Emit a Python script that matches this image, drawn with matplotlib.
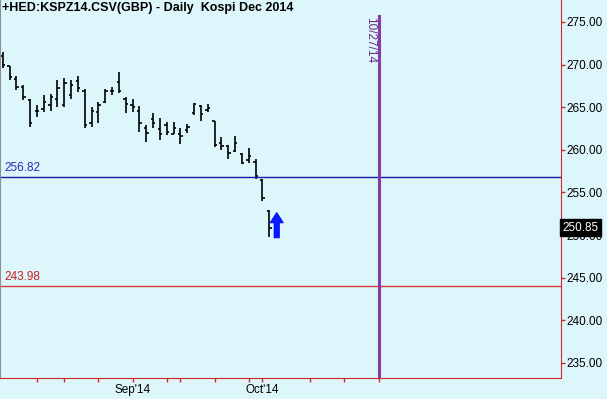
import matplotlib.pyplot as plt

plt.rcParams['font.family'] = ['Liberation Sans', 'DejaVu Sans']

# daily OHLC, Kospi Dec 2014 (GBP)
opens = [271.0, 269.8, 268.3, 267.4, 265.8, 264.6, 264.8, 265.2, 266.0, 265.3,
         266.4, 268.1, 266.9, 263.1, 264.4, 265.6, 266.9, 267.9, 266.0, 265.3,
         264.6, 262.5, 263.6, 262.4, 262.9, 261.9, 261.9, 262.3, 264.3, 265.1,
         264.7, 263.4, 260.8, 260.4, 259.9, 259.5, 258.8, 258.6, 256.5, 252.8]
highs = [271.5, 269.8, 268.7, 267.6, 266.0, 265.3, 266.4, 266.6, 268.2, 268.4,
         268.2, 268.7, 267.1, 265.0, 265.6, 267.1, 267.4, 269.1, 266.2, 266.0,
         265.1, 262.9, 264.3, 263.7, 263.3, 263.3, 262.6, 263.0, 265.5, 265.3,
         265.4, 263.4, 261.5, 260.6, 261.6, 259.6, 260.2, 258.9, 256.6, 252.9]
lows = [269.6, 268.2, 267.0, 265.9, 262.7, 263.9, 264.4, 264.6, 265.0, 265.0,
        266.0, 266.8, 262.6, 262.7, 263.2, 265.5, 266.4, 266.7, 264.3, 264.4,
        262.1, 260.9, 262.6, 261.2, 261.7, 261.9, 260.7, 262.0, 264.1, 263.4,
        264.4, 260.3, 260.0, 258.9, 259.7, 258.3, 258.5, 256.6, 254.0, 249.8]
closes = [270.0, 268.5, 267.4, 266.2, 263.2, 264.5, 265.6, 266.2, 267.2, 267.8,
          267.6, 267.3, 262.9, 264.6, 265.3, 266.9, 266.9, 266.9, 265.4, 265.0,
          263.1, 262.0, 263.2, 261.9, 262.1, 262.6, 261.6, 262.7, 265.4, 264.2,
          264.9, 260.6, 260.4, 259.6, 260.8, 258.5, 259.3, 256.9, 254.4, 250.85]

upper_level = 256.82
lower_level = 243.98
last_price = 250.85
marker_label = '10/27/14'
marker_idx = 55
week_ticks = [5, 9, 14, 19, 24, 26, 31, 36, 38, 45, 50, 55]
month_ticks = [19, 38]
month_labels = ["Sep'14", "Oct'14"]
y_ticks = [235, 240, 245, 250, 255, 260, 265, 270, 275]

bg = '#dcf6fb'
axis_red = '#d02828'

fig = plt.figure(figsize=(6.07, 3.99), dpi=100, facecolor=bg)
ax = fig.add_axes([0.0, 21 / 399, 561 / 607, 378 / 399], facecolor=bg)

x = list(range(len(closes)))
tick = 0.35
ax.vlines(x, lows, highs, color='black', lw=1.2)
ax.hlines(opens, [i - tick for i in x], x, color='black', lw=1.2)
ax.hlines(closes, x, [i + tick for i in x], color='black', lw=1.2)

ax.set_xlim(-0.4, 81.7)
ax.set_ylim(233.22, 277.58)

# support / resistance lines
ax.axhline(upper_level, color='#1a1aa0', lw=1)
ax.axhline(lower_level, color='#d83a3a', lw=1)
ax.text(0.3, upper_level + 0.35, f'{upper_level:.2f}', color='#2a2ab0', fontsize=8.5, va='bottom')
ax.text(0.3, lower_level + 0.35, f'{lower_level:.2f}', color='#d02020', fontsize=8.5, va='bottom')

# date marker
ax.plot([marker_idx, marker_idx], [233.22, 275.7], color='#8a3aa8', lw=2.2)
ax.text(marker_idx - 1.3, 275.6, marker_label, color='#6a2a80', fontsize=8.5,
        rotation=270, ha='center', va='top')

# blue signal arrow
ax.annotate('', xy=(40.1, 252.6), xytext=(40.1, 249.7),
            arrowprops=dict(facecolor='#0a1aff', edgecolor='#0a1aff',
                            width=3.5, headwidth=9, headlength=7))

ax.text(0.004, 0.995, '+HED:KSPZ14.CSV(GBP) - Daily  Kospi Dec 2014',
        transform=ax.transAxes, fontsize=9, fontweight='bold', va='top', ha='left')

# axes styling
ax.yaxis.tick_right()
ax.set_yticks(y_ticks)
ax.set_yticklabels([f'{v:.2f}' for v in y_ticks])
ax.set_xticks(week_ticks, minor=True)
ax.set_xticks(month_ticks)
ax.set_xticklabels(month_labels)
ax.tick_params(axis='y', colors=axis_red, labelcolor='black', labelsize=8.5,
               length=3, width=1, pad=1)
ax.tick_params(axis='x', which='both', colors=axis_red, labelcolor='black',
               labelsize=8.5, length=3, width=1, pad=1)
ax.spines['top'].set_visible(False)
ax.spines['right'].set_color(axis_red)
ax.spines['bottom'].set_color(axis_red)
ax.spines['left'].set_color('#909090')
ax.spines['left'].set_linewidth(1.5)

ax.text(1.003, last_price, f'{last_price:.2f}', transform=ax.get_yaxis_transform(),
        color='white', fontsize=8.5, va='center', ha='left', clip_on=False,
        bbox=dict(boxstyle='square,pad=0.2', facecolor='black', edgecolor='black'),
        zorder=10)

fig.savefig('out.png', dpi=100, facecolor=bg)
